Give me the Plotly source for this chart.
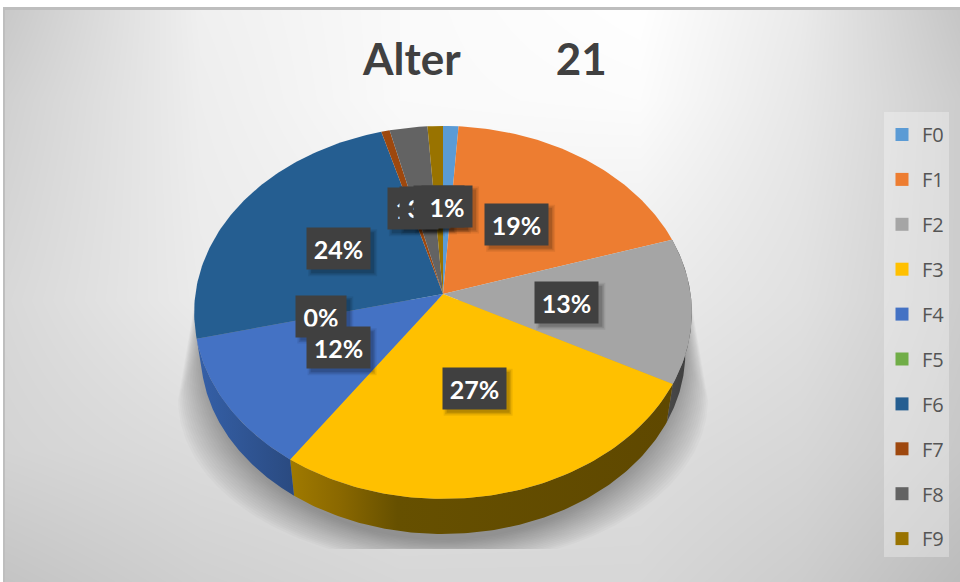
import base64, struct, zlib
import numpy as np
import plotly.graph_objects as go

categories = ["F0", "F1", "F2", "F3", "F4", "F5", "F6", "F7", "F8", "F9"]
values = [1.1, 19.0, 12.6, 26.9, 11.6, 0.0, 24.4, 0.6, 2.7, 1.1]
colors = ["#5B9BD5", "#ED7D31", "#A5A5A5", "#FFC000", "#4472C4",
          "#70AD47", "#255E91", "#9E480E", "#636363", "#997300"]
title_text = "Alter" + "\u00a0" * 9 + "21"

W, H = 960, 582
CX, CY, A, B, K = 443.0, 294.0, 247.6, 184.6, 0.0988
DEPTH, SHRINK = 40.5, 0.974


def project(theta, r=1.0, s=1.0, d=0.0):
    u = r * np.sin(theta)
    v = r * np.cos(theta)
    q = 1 + K * v
    return CX + s * A * u / q, CY + d - s * B * v / q


def png_uri(img):
    h, w = img.shape
    raw = b"".join(b"\x00" + img[i].tobytes() for i in range(h))

    def chunk(t, dat):
        return struct.pack(">I", len(dat)) + t + dat + struct.pack(">I", zlib.crc32(t + dat))
    data = (b"\x89PNG\r\n\x1a\n" + chunk(b"IHDR", struct.pack(">IIBBBBB", w, h, 8, 0, 0, 0, 0))
            + chunk(b"IDAT", zlib.compress(raw)) + chunk(b"IEND", b""))
    return "data:image/png;base64," + base64.b64encode(data).decode()


# background gradient, from grey levels read at a few places of the reference
grid_x = [0, 200, 400, 640, 800, 960]
grid_y = [10, 100, 300, 450, 582]
grid_v = np.array([
    [200, 240, 250, 255, 235, 198],
    [208, 238, 250, 252, 232, 205],
    [216, 235, 240, 235, 225, 205],
    [212, 220, 225, 222, 215, 200],
    [196, 208, 215, 215, 205, 188],
], dtype=float)
cols = np.array([np.interp(np.arange(W), grid_x, row) for row in grid_v])
bg = np.array([np.interp(np.arange(H), grid_y, cols[:, j]) for j in range(W)]).T
bg[:7, :] = 255
bg[:, :3] = 255
bg[7:10, 3:] = 190
bg[7:, 3:5] = 190
bg_img = png_uri(np.clip(bg, 0, 255).astype(np.uint8))

fig = go.Figure()

# soft shadow below the pie, flat-cut near the bottom, flaring up behind the disc
th = np.linspace(0, np.pi, 121)
for f in np.linspace(0, 1, 18):
    rx = 240 + 25 * (1 - f)
    ry = 195 - 30 * (1 - f)
    cy = 345 + 55 * (1 - f)
    px = CX + rx * np.cos(th)
    py = np.minimum(cy + ry * np.sin(th), 549)
    top = 240 + 8 * (1 - f)
    px = np.r_[CX + top, px, CX - top]
    py = np.r_[300, py, 300]
    fig.add_trace(go.Scatter(x=px, y=py, mode="lines", fill="toself", line=dict(width=0),
                             fillcolor="rgba(0,0,0,0.02)", hoverinfo="skip", showlegend=False))

frac = np.array(values) / sum(values)
ends = np.cumsum(frac) * 2 * np.pi
starts = ends - frac * 2 * np.pi

# side walls of the visible lower half
wall_scales = {
    "F2": [[0, "#4a4a4a"], [1, "#3c3c3c"]],
    "F3": [[0, "#a07a00"], [0.13, "#8a6800"], [0.28, "#665000"], [1, "#5f4800"]],
    "F4": [[0, "#3560a8"], [1, "#2a4a80"]],
}
for name, a0, a1 in zip(categories, starts, ends):
    if name not in wall_scales:
        continue
    a = np.linspace(a0, a1, 120)
    x1, y1 = project(a)
    x2, y2 = project(a[::-1], s=SHRINK, d=DEPTH)
    fig.add_trace(go.Scatter(
        x=np.r_[x1, x2], y=np.r_[y1, y2], mode="lines", fill="toself", line=dict(width=0),
        fillgradient=dict(type="horizontal", colorscale=wall_scales[name]),
        hoverinfo="skip", showlegend=False))

# top face
for name, a0, a1, c in zip(categories, starts, ends, colors):
    a = np.linspace(a0, a1, max(int((a1 - a0) * 60), 2))
    x1, y1 = project(a)
    fig.add_trace(go.Scatter(
        x=np.r_[CX, x1, CX], y=np.r_[CY, y1, CY], mode="lines", fill="toself",
        line=dict(width=0), fillcolor=c, name=name, hoverinfo="name", showlegend=False))

# legend entries
for name, c in zip(categories, colors):
    fig.add_trace(go.Scatter(x=[None], y=[None], mode="markers", name=name, legendgroup=name,
                             marker=dict(symbol="square", size=13, color=c)))

# data labels
annotations = []
shapes = [dict(type="rect", xref="x", yref="y", layer="below", line_width=0,
               x0=884, x1=949, y0=112, y1=557, fillcolor="rgba(255,255,255,0.3)")]
order = [7, 8, 9, 6, 5, 4, 3, 2, 1, 0]
for i in order:
    mid = (starts[i] + ends[i]) / 2
    lx, ly = project(mid, r=0.5)
    label = f"{round(values[i])}%"
    bw = 63 if len(label) == 3 else 50
    bh = 41
    for grow, alpha in ((3, 0.07), (1.5, 0.1), (0, 0.14)):
        shapes.append(dict(type="rect", xref="x", yref="y", layer="above", line_width=0,
                           x0=lx - bw / 2 + 4 - grow, x1=lx + bw / 2 + 4 + grow,
                           y0=ly - bh / 2 + 4 - grow, y1=ly + bh / 2 + 4 + grow,
                           fillcolor=f"rgba(0,0,0,{alpha})"))
    annotations.append(dict(x=float(lx), y=float(ly), xref="x", yref="y", text=f"<b>{label}</b>",
                            showarrow=False, width=bw, height=bh, bgcolor="#404040", borderpad=0,
                            font=dict(family="Lato", size=25, color="#ffffff")))

annotations.append(dict(x=484, y=58, xref="x", yref="y", text=f"<b>{title_text}</b>", showarrow=False,
                        font=dict(family="Lato", size=44, color="#404040")))

fig.update_layout(
    width=W, height=H, autosize=False,
    margin=dict(l=0, r=0, t=0, b=0),
    paper_bgcolor="#e0e0e0", plot_bgcolor="rgba(0,0,0,0)",
    xaxis=dict(range=[0, W], visible=False, fixedrange=True),
    yaxis=dict(range=[H, 0], visible=False, fixedrange=True),
    images=[dict(source=bg_img, xref="paper", yref="paper", x=0, y=1, sizex=1, sizey=1,
                 sizing="stretch", xanchor="left", yanchor="top", layer="below")],
    annotations=annotations, shapes=shapes,
    legend=dict(x=882 / W, y=1 - 115 / H, xanchor="left", yanchor="top",
                bgcolor="rgba(0,0,0,0)", borderwidth=0, tracegroupgap=15.9,
                font=dict(family="Open Sans", size=20, color="#555555")),
    showlegend=True,
)
fig.write_html("out.html", config=dict(displayModeBar=False),
               post_script="document.body.style.margin='0';document.body.style.overflow='hidden';")
